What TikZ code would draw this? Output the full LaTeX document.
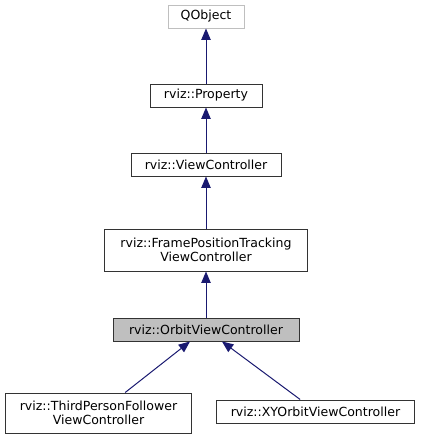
\documentclass[tikz,border=0pt]{standalone}
\usepackage{fontspec}
\setmainfont{DejaVu Sans}
\usepackage{tikz}
\usetikzlibrary{arrows.meta}
\definecolor{edgeblue}{HTML}{191970}
\definecolor{boxgray}{HTML}{BFBFBF}
\tikzset{
  cls/.style={draw=black!80, line width=0.75pt, inner sep=0pt, minimum height=17.25pt,
    align=center, font=\fontsize{9.4}{10.4}\selectfont},
  inh/.style={draw=edgeblue, line width=0.75pt, -{Triangle[length=8.5pt,width=7pt]}},
}

\begin{document}
\begin{tikzpicture}[x=0.75pt,y=0.75pt,yscale=-1,xscale=1]
    \useasboundingbox (0,0) rectangle (421,440);

    % Class Nodes
    \node [cls, draw=boxgray, minimum width=57pt] (qobject) at (206,16.5) {QObject};
    \node [cls, minimum width=84pt] (property) at (206,95.5) {rviz::Property};
    \node [cls, minimum width=112.5pt] (viewctrl) at (206,164.5) {rviz::ViewController};
    \node [cls, minimum width=152pt, minimum height=31.5pt] (frametrack) at (206,250) {rviz::FramePositionTracking\\ViewController};
    \node [cls, fill=boxgray, minimum width=139.5pt] (orbit) at (206,329.5) {rviz::OrbitViewController};
    \node [cls, minimum width=140pt, minimum height=30pt] (thirdperson) at (98.5,413) {rviz::ThirdPersonFollower\\ViewController};
    \node [cls, minimum width=149pt] (xyorbit) at (315.5,411.5) {rviz::XYOrbitViewController};

    % Inheritance Edges
    \draw [inh] (property) -- (qobject);
    \draw [inh] (viewctrl) -- (property);
    \draw [inh] (frametrack) -- (viewctrl);
    \draw [inh] (orbit) -- (frametrack);
    \draw [inh] ([xshift=20pt]thirdperson.north) -- ([xshift=-12pt]orbit.south);
    \draw [inh] ([xshift=-11.5pt]xyorbit.north) -- ([xshift=12pt]orbit.south);
\end{tikzpicture}
\end{document}
